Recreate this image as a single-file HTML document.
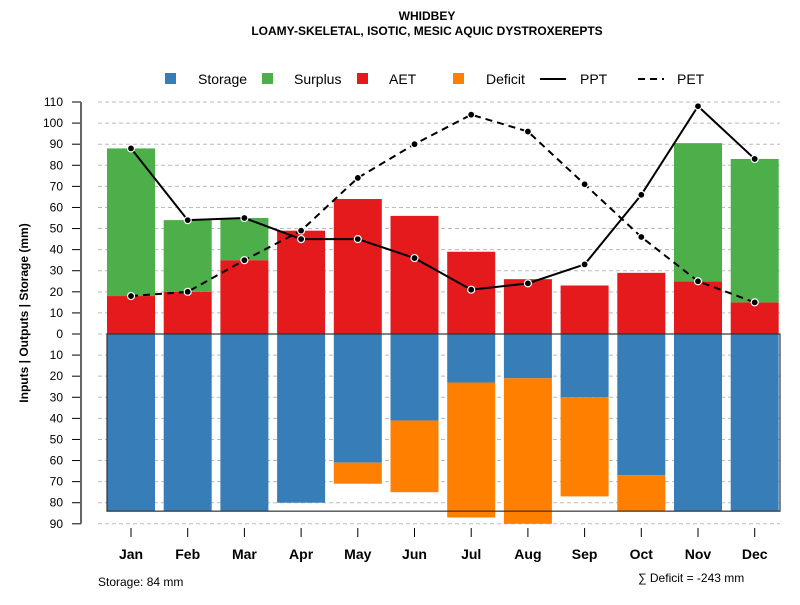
<!DOCTYPE html>
<html><head><meta charset="utf-8"><style>
body{margin:0;background:#fff;font-family:"Liberation Sans",sans-serif}
svg text{font-family:"Liberation Sans",sans-serif}
</style></head><body>
<svg id="c" width="800" height="600" xmlns="http://www.w3.org/2000/svg">
<text x="427" y="20" text-anchor="middle" font-size="12" font-weight="bold">WHIDBEY</text>
<text x="427" y="35" text-anchor="middle" font-size="12" font-weight="bold">LOAMY-SKELETAL, ISOTIC, MESIC AQUIC DYSTROXEREPTS</text>
<g id="legend">
<rect x="165" y="73" width="11" height="11" fill="#377eb8"/><text x="198" y="84" font-size="14">Storage</text>
<rect x="262" y="73" width="11" height="11" fill="#4daf4a"/><text x="294" y="84" font-size="14">Surplus</text>
<rect x="357" y="73" width="11" height="11" fill="#e41a1c"/><text x="389" y="84" font-size="14">AET</text>
<rect x="453" y="73" width="11" height="11" fill="#ff7f00"/><text x="486" y="84" font-size="14">Deficit</text>
<line x1="540" y1="79" x2="566" y2="79" stroke="#000" stroke-width="2"/><text x="580" y="84" font-size="14">PPT</text>
<line x1="638" y1="79" x2="664" y2="79" stroke="#000" stroke-width="2" stroke-dasharray="7,5"/><text x="677" y="84" font-size="14">PET</text>
</g>
<text transform="translate(28,313) rotate(-90)" text-anchor="middle" font-size="12" font-weight="bold">Inputs | Outputs | Storage    (mm)</text>
<text x="98" y="586" font-size="12">Storage: 84 mm</text>
<text x="638" y="582" font-size="12">∑ Deficit = -243 mm</text>
<g id="grid"></g><g id="bars"></g><g id="lines"></g><g id="axes"></g>
</svg>
<script>
const months=["Jan","Feb","Mar","Apr","May","Jun","Jul","Aug","Sep","Oct","Nov","Dec"];
const aet=[18,20,35,49,64,56,39,26,23,29,25,15];
const surplus=[70,34,20,0,0,0,0,0,0,0,65.5,68];
const storage=[84,84,84,80,61,41,23,21,30,67,84,84];
const deficit=[0,0,0,0,10,34,64,69,47,17,0,0];
const ppt=[88,54,55,45,45,36,21,24,33,66,108,83];
const pet=[18,20,35,49,74,90,104,96,71,46,25,15];
const yTicks=[110,100,90,80,70,60,50,40,30,20,10,0,10,20,30,40,50,60,70,80,90];
const maxStorage=84;
const NS="http://www.w3.org/2000/svg";
const y0=334,k=2.109;
const Y=v=>y0-v*k;
const X=i=>131+i*56.7;
const bw=48;
function mk(p,t,a){const e=document.createElementNS(NS,t);for(const q in a)e.setAttribute(q,a[q]);document.getElementById(p).appendChild(e);return e;}
yTicks.forEach((t,j)=>{const v=j<=11?t:-t;const y=Y(v);
 let g=mk("grid","line",{x1:98,x2:780,y1:y,y2:y,stroke:"#bbb","stroke-dasharray":"4,3"});
 
 let tk=mk("axes","line",{x1:72,x2:81,y1:y,y2:y,stroke:"#000"});
 
 let tx=mk("axes","text",{x:63,y:y+4,"text-anchor":"end","font-size":"12"});tx.textContent=t;
 
});
let ax=mk("axes","line",{x1:81,x2:81,y1:Y(110),y2:Y(-90),stroke:"#666","stroke-width":2});

months.forEach((m,i)=>{const x=X(i),l=x-bw/2;
 let a=mk("bars","rect",{x:l,y:Y(aet[i]),width:bw,height:aet[i]*k,fill:"#e41a1c"});
 
 if(surplus[i]>0){let s=mk("bars","rect",{x:l,y:Y(aet[i]+surplus[i]),width:bw,height:surplus[i]*k,fill:"#4daf4a"});
  }
 let st=mk("bars","rect",{x:l,y:y0,width:bw,height:storage[i]*k,fill:"#377eb8"});
 
 if(deficit[i]>0){let d=mk("bars","rect",{x:l,y:Y(-storage[i]),width:bw,height:deficit[i]*k,fill:"#ff7f00"});
  }
 let tk=mk("axes","line",{x1:x,x2:x,y1:528,y2:537,stroke:"#000"});
 
 let tx=mk("axes","text",{x:x,y:559,"text-anchor":"middle","font-size":"14","font-weight":"bold"});tx.textContent=m;
 
});
let box=mk("bars","rect",{x:107,y:y0,width:673,height:maxStorage*k,fill:"none",stroke:"#333","stroke-width":1.2});

function line(arr,name,dash){
 const p=arr.map((v,i)=>X(i)+","+Y(v)).join(" ");
 let l=mk("lines","polyline",{points:p,fill:"none",stroke:"#000","stroke-width":2,"stroke-dasharray":dash});
 
 arr.forEach((v,i)=>{let c=mk("lines","circle",{cx:X(i),cy:Y(v),r:3.5,fill:"#000",stroke:"#fff","stroke-width":1.2});
  });
}
line(pet,"pet","7,5");
line(ppt,"ppt","none");
</script>
</body></html>
